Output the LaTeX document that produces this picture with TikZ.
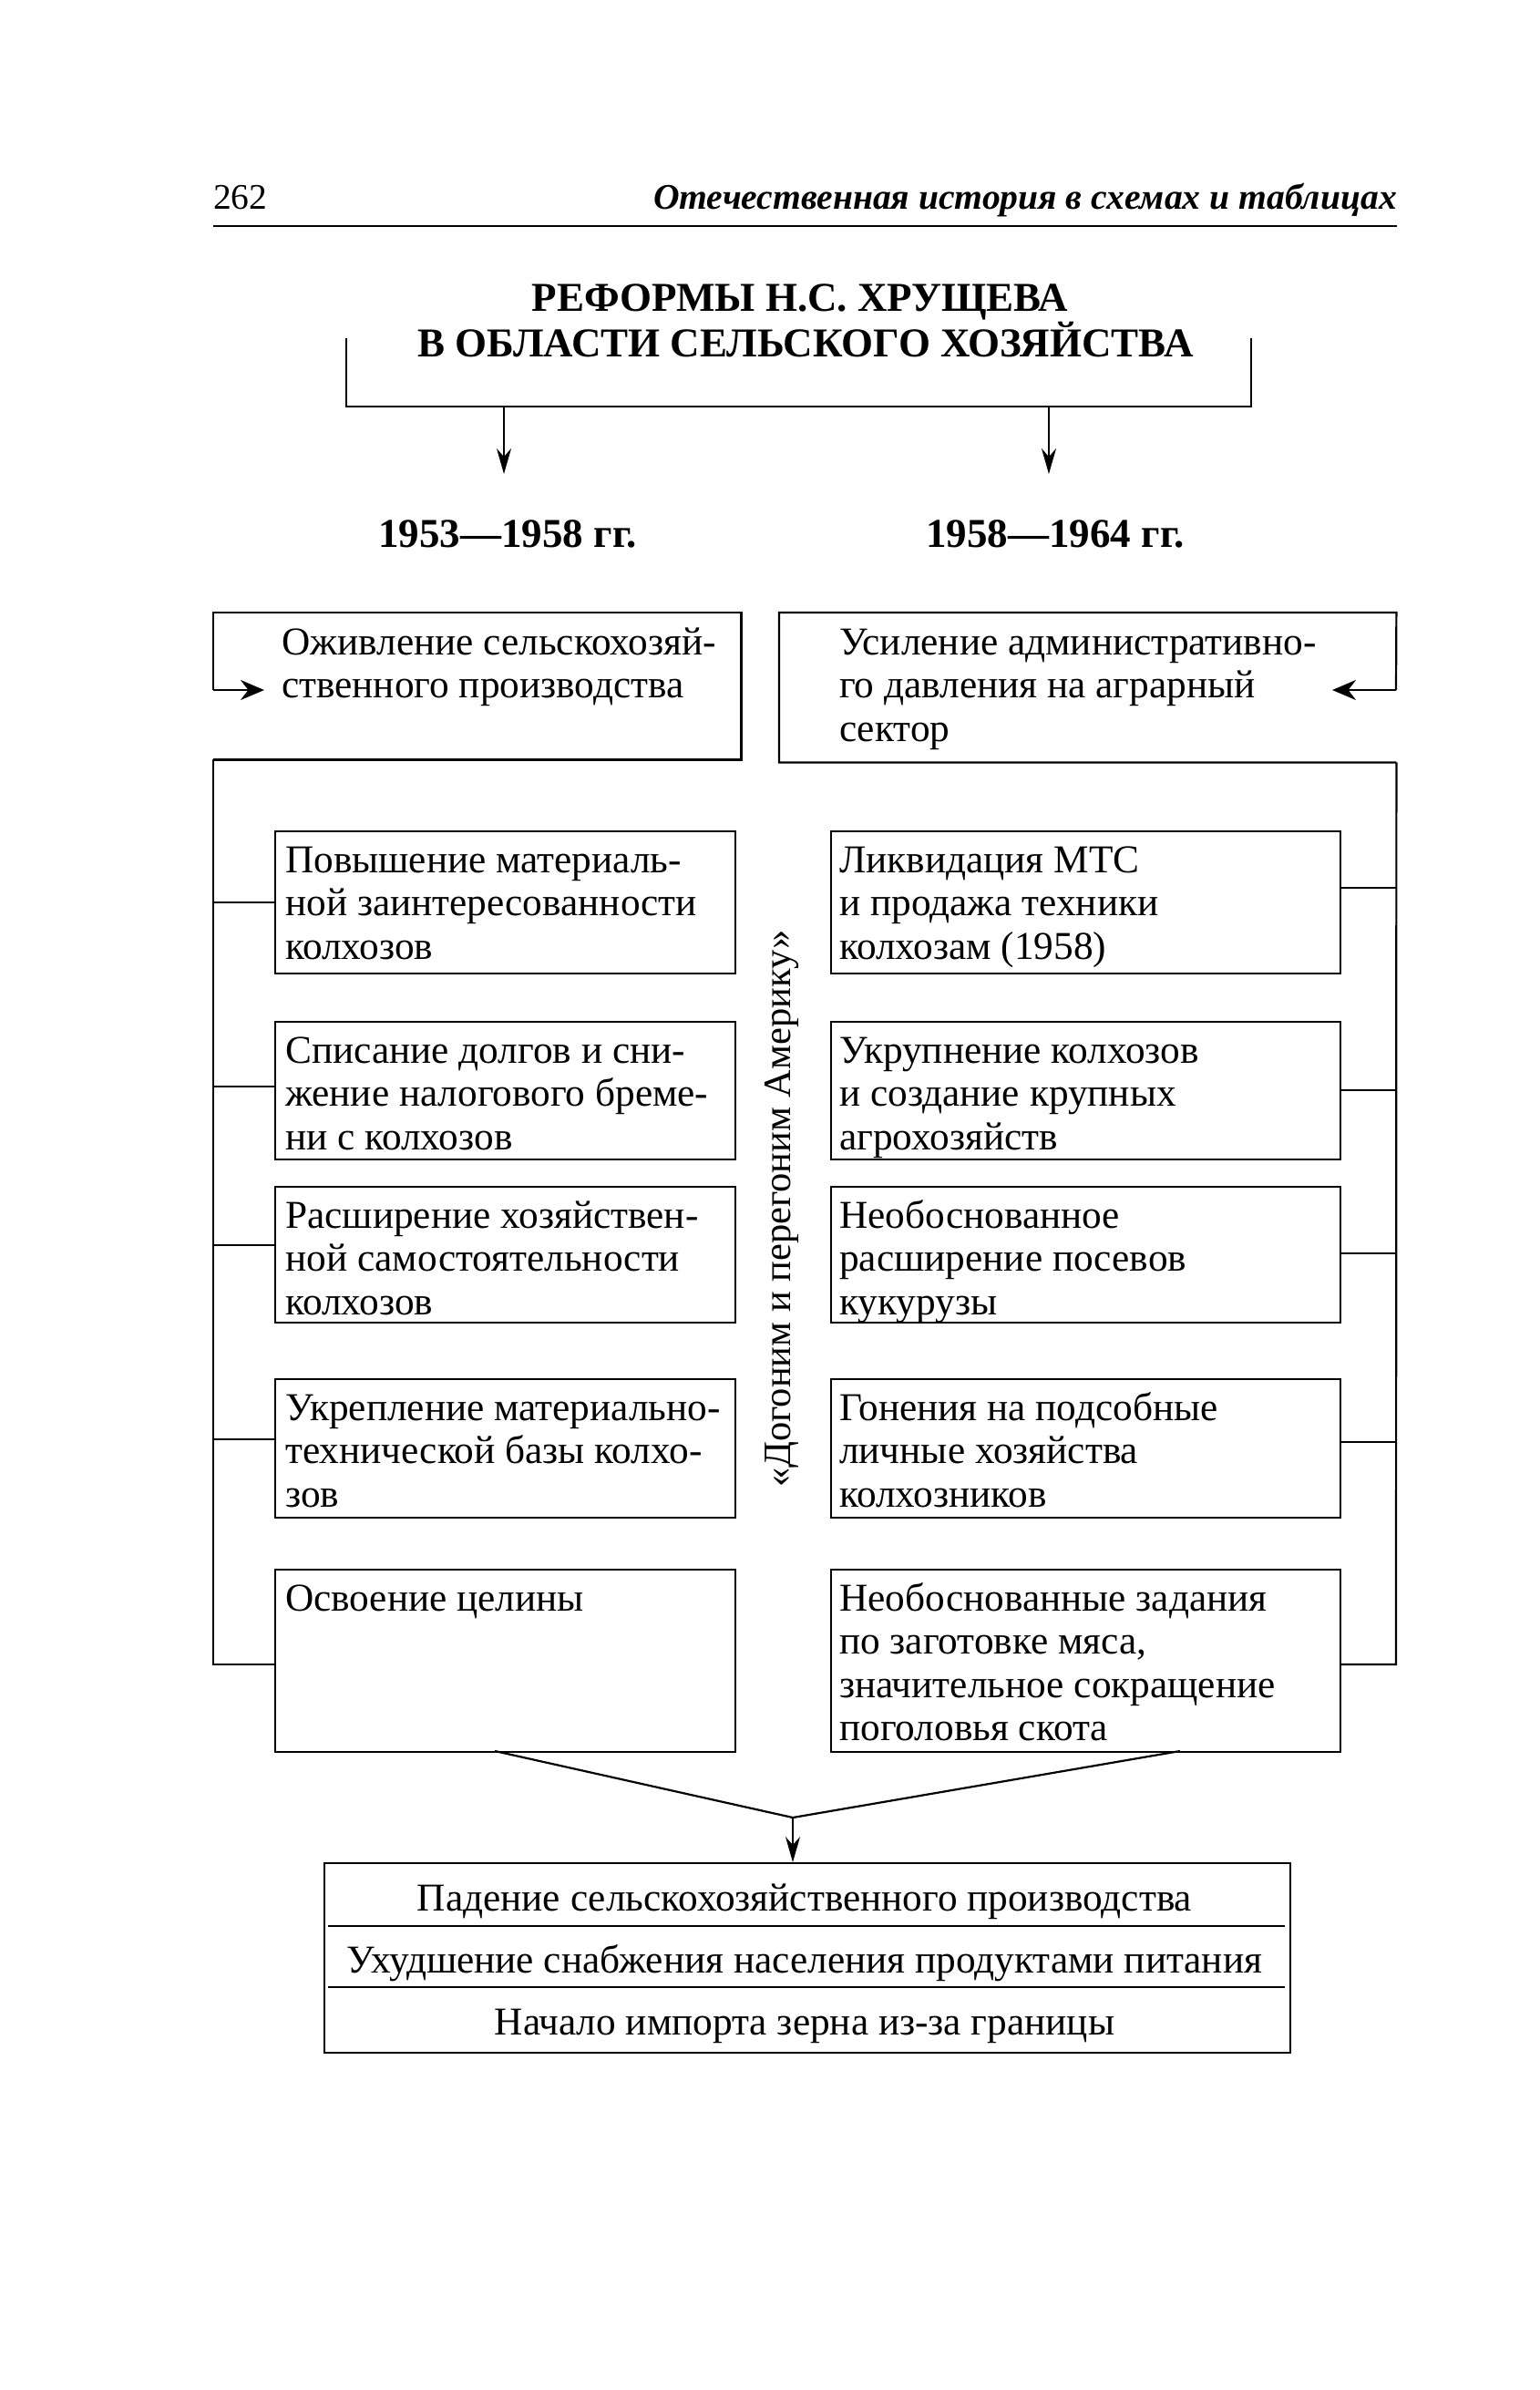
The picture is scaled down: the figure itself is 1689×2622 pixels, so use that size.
\documentclass[tikz,border=0pt]{standalone}
\usepackage{fontspec}
\setmainfont{Liberation Serif}
\usetikzlibrary{arrows.meta,calc}
\newcommand\bodyfont{\fontsize{43.3}{47.6}\selectfont}
\newcommand\boxtext[1]{\parbox[t]{600pt}{#1}}
\begin{document}
\begin{tikzpicture}[x=1pt,y=-1pt,
  ln/.style={line width=2.2pt},
  cell/.style={draw, line width=2.2pt, anchor=north west, inner sep=0},
  lcell/.style={cell, minimum width=505pt, minimum height=#1},
  rcell/.style={cell, minimum width=559pt, minimum height=#1},
  txt/.style={anchor=base west, inner sep=0, font=\bodyfont},
  ctxt/.style={anchor=base, inner sep=0, font=\bodyfont},
  arr/.style={ln, -{Stealth[length=28pt,width=16pt]}},
  sarr/.style={ln, -{Stealth[length=26pt,width=22pt]}}
]
\useasboundingbox (0,0) rectangle (1689,2622);
% header
\node[anchor=base west, inner sep=0, font=\fontsize{39.5}{40}\selectfont] (pnum) at (234,230) {262};
\node[anchor=base east, inner sep=0, font=\fontsize{39.6}{40}\selectfont\bfseries\itshape] (hdr) at (1533,230) {Отечественная история в схемах и таблицах};
\coordinate (hrL) at (234,248);
\coordinate (hrR) at (1533,248);
\draw[line width=2.6pt] (hrL) -- (hrR);
% title
\node[anchor=base, inner sep=0, font=\fontsize{45}{50}\selectfont\bfseries] (t1) at (878,341) {РЕФОРМЫ Н.С. ХРУЩЕВА};
\node[anchor=base, inner sep=0, font=\fontsize{45}{50}\selectfont\bfseries] (t2) at (884,391) {В ОБЛАСТИ СЕЛЬСКОГО ХОЗЯЙСТВА};
\coordinate (bkL) at (380,371);
\coordinate (bkR) at (1373,371);
\coordinate (bkLb) at (380,446);
\coordinate (bkRb) at (1373,446);
\draw[ln] (bkL) -- (bkLb) -- (bkRb) -- (bkR);
\coordinate (a1s) at (553,446);
\coordinate (a2s) at (1151,446);
\node[anchor=base, inner sep=0, font=\fontsize{45}{50}\selectfont\bfseries] (p1) at (557,600) {1953—1958 гг.};
\node[anchor=base, inner sep=0, font=\fontsize{45}{50}\selectfont\bfseries] (p2) at (1158,600) {1958—1964 гг.};
\coordinate (a1e) at (553,520);
\coordinate (a2e) at (1151,520);
\draw[arr] (a1s) -- (a1e);
\draw[arr] (a2s) -- (a2e);
% top boxes
\node[anchor=north west, inner sep=0, minimum width=579pt, minimum height=161pt] (TL) at (234,672) {};
\node[anchor=north west, inner sep=0, minimum width=677pt, minimum height=164pt] (TR) at (855,672) {};
\node[txt] (TLt) at (309,718) {\boxtext{Оживление сельскохозяй-\\ственного производства}};
\node[txt] (TRt) at (921,718) {\boxtext{Усиление административно-\\го давления на аграрный\\сектор}};
\coordinate (TLa) at (234,757);
\coordinate (TLtip) at (290,757);
\coordinate (TRa) at (1532,757);
\coordinate (TRtip) at (1462,757);
\draw[ln] (TLa) -- (TL.north west) -- (TL.north east) -- (TL.south east) -- (TL.south west);
\draw[sarr] (TLa) -- (TLtip);
\draw[ln] (TRa) -- (TR.north east) -- (TR.north west) -- (TR.south west) -- (TR.south east);
\draw[sarr] (TRa) -- (TRtip);
% left column
\node[lcell=156pt] (L1) at (301,911) {};
\node[lcell=151pt] (L2) at (301,1120) {};
\node[lcell=149pt] (L3) at (301,1301) {};
\node[lcell=152pt] (L4) at (301,1512) {};
\node[lcell=200pt] (L5) at (301,1721) {};
\node[txt] at ($(L1.north west)+(12,46)$) {\boxtext{Повышение материаль-\\ной заинтересованности\\колхозов}};
\node[txt] at ($(L2.north west)+(12,46)$) {\boxtext{Списание долгов и сни-\\жение налогового бреме-\\ни с колхозов}};
\node[txt] at ($(L3.north west)+(12,46)$) {\boxtext{Расширение хозяйствен-\\ной самостоятельности\\колхозов}};
\node[txt] at ($(L4.north west)+(12,46)$) {\boxtext{Укрепление материально-\\технической базы колхо-\\зов}};
\node[txt] at ($(L5.north west)+(12,46)$) {\boxtext{Освоение целины}};
% right column
\node[rcell=156pt] (R1) at (911,911) {};
\node[rcell=151pt] (R2) at (911,1120) {};
\node[rcell=149pt] (R3) at (911,1301) {};
\node[rcell=152pt] (R4) at (911,1512) {};
\node[rcell=200pt] (R5) at (911,1721) {};
\node[txt] at ($(R1.north west)+(10,46)$) {\boxtext{Ликвидация МТС\\и продажа техники\\колхозам (1958)}};
\node[txt] at ($(R2.north west)+(10,46)$) {\boxtext{Укрупнение колхозов\\и создание крупных\\агрохозяйств}};
\node[txt] at ($(R3.north west)+(10,46)$) {\boxtext{Необоснованное\\расширение посевов\\кукурузы}};
\node[txt] at ($(R4.north west)+(10,46)$) {\boxtext{Гонения на подсобные\\личные хозяйства\\колхозников}};
\node[txt] at ($(R5.north west)+(10,46)$) {\boxtext{Необоснованные задания\\по заготовке мяса,\\значительное сокращение\\поголовья скота}};
% slogan
\node[rotate=90, inner sep=0, font=\fontsize{42.5}{47}\selectfont] (slogan) at (858,1326) {«Догоним и перегоним Америку»};
% left frame
\coordinate (LFb) at (234,1826);
\draw[ln] (TL.south west) -- (LFb) -- (LFb -| L5.west);
\foreach \n/\yy in {L1/990,L2/1192,L3/1366,L4/1579}{
  \draw[ln] (234,\yy) -- (\n.west |- 0,\yy);
}
% right frame
\coordinate (RFb) at (1532,1826);
\draw[ln] (TR.south east) -- (RFb) -- (RFb -| R5.east);
\foreach \n/\yy in {R1/974,R2/1196,R3/1375,R4/1582}{
  \draw[ln] (1532,\yy) -- (\n.east |- 0,\yy);
}
% convergence
\coordinate (cL) at (543,1921);
\coordinate (cR) at (1295,1921);
\coordinate (cM) at (870,1994);
\draw[ln] (cL) -- (cM) -- (cR);
% bottom box
\node[cell, minimum width=1060pt, minimum height=208pt] (B) at (355,2043) {};
\draw[arr] (cM) -- (B.north -| cM);
\draw[ln] (360,2113) -- (1410,2113);
\draw[ln] (360,2180) -- (1410,2180);
\node[ctxt] (b1) at (883,2096) {Падение сельскохозяйственного производства};
\node[ctxt] (b2) at (883,2164) {Ухудшение снабжения населения продуктами питания};
\node[ctxt] (b3) at (883,2232) {Начало импорта зерна из-за границы};
\end{tikzpicture}
\end{document}
